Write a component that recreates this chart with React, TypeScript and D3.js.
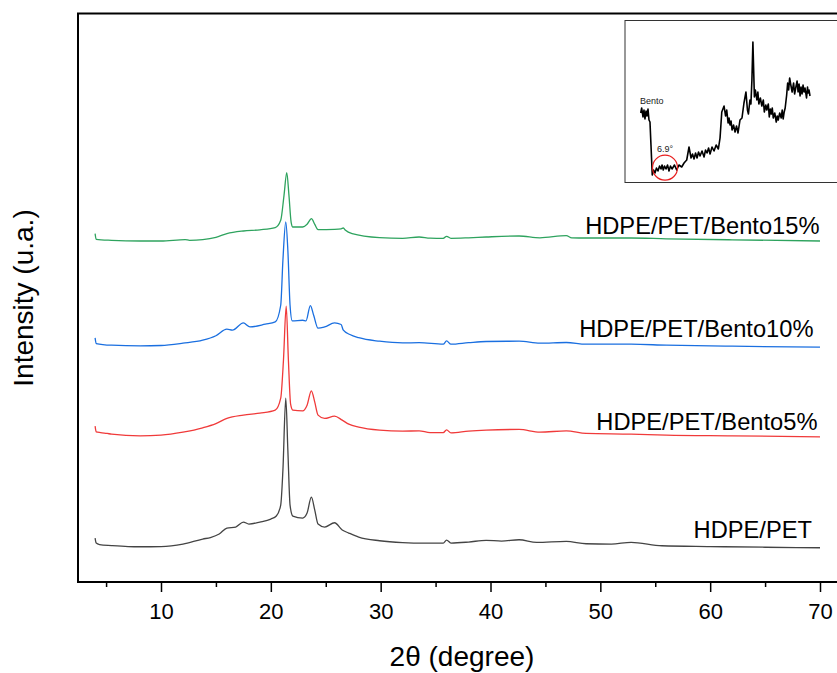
import * as d3 from "d3";
import { useRef, useEffect } from "react";

// 2θ positions and intensities (u.a.)
const petTheta = [4.0, 4.1, 4.4, 5.5, 7, 8.1, 10, 12, 13.8, 14.5, 15.3, 16.0, 16.8, 17.5, 18.0, 19.0, 20.0, 20.5, 20.9, 21.1, 21.36, 21.55, 21.75, 22.0, 22.9, 23.3, 23.69, 24.0, 24.3, 24.9, 25.8, 26.5, 27.1, 28, 29.9, 32, 34, 35.7, 36.0, 36.4, 38, 39.6, 41, 42.6, 44.2, 46.9, 48.7, 51, 52.8, 55.6, 60, 65, 70];
const petValues = [44, 39, 37.5, 36.5, 35.5, 35.3, 35.5, 38, 43, 44.5, 48, 54, 55, 60, 58, 60, 63, 66, 77, 112, 184, 132, 77, 66, 64, 69, 85, 72, 58, 55, 59.3, 52, 49, 45, 41.3, 39.5, 39, 39, 42, 39, 40, 41.7, 41, 42.3, 39.7, 40.7, 38.3, 38, 39.7, 36.3, 35.5, 34.8, 34.3];

const b5Theta = [4.0, 4.1, 4.5, 5.1, 5.5, 8.1, 10, 12, 13.8, 15, 16.0, 17.5, 19, 20.4, 20.9, 21.15, 21.4, 21.6, 21.8, 22.0, 22.9, 23.3, 23.69, 24.0, 24.3, 24.9, 25.8, 26.5, 27.1, 28, 29.9, 32, 33.5, 34.5, 35.7, 36.0, 36.4, 38, 39.6, 42.6, 44.5, 46.9, 48.7, 52.8, 56, 62, 70];
const b5Values = [156, 150.3, 149.5, 148.7, 148, 146.3, 147, 150, 154.3, 158.5, 163.7, 167, 169, 172, 184, 222, 276, 222, 178, 172, 171.3, 177, 191.3, 180, 167, 163.7, 166, 162, 158, 155, 152, 151, 151.3, 149.5, 149.5, 152.3, 149.3, 151, 152, 152.7, 150, 151.3, 148.7, 148, 147, 146.3, 145.3];

const b10Theta = [4.0, 4.1, 5.5, 8.1, 10, 12, 13.8, 15, 16.0, 16.5, 17.5, 18.1, 19.5, 20.4, 20.9, 21.1, 21.36, 21.55, 21.75, 21.95, 22.9, 23.2, 23.6, 23.9, 24.3, 24.9, 25.8, 26.4, 26.6, 27.2, 28, 29.9, 32, 33.5, 35.7, 36.0, 36.4, 38, 39.6, 42.6, 44.5, 46.9, 48.7, 52.8, 56, 62, 70];
const b10Values = [244.3, 238.7, 237, 236.3, 236.7, 239, 242, 246.5, 253, 252, 259.3, 255.3, 258, 260.3, 277, 322, 360.3, 332, 277, 261.3, 262, 261.3, 276.7, 267, 254, 255.3, 259.3, 257.7, 252, 247.7, 244.5, 241, 239.3, 239.5, 238, 241.3, 238, 239.5, 240.7, 241, 239, 239.7, 238, 238, 237, 236, 235];

const b15Theta = [4.0, 4.1, 5.5, 8.1, 10, 12.2, 12.6, 13.8, 15, 16.0, 17.5, 19, 20.4, 20.9, 21.2, 21.45, 21.65, 21.85, 22.0, 22.9, 23.3, 23.7, 24.0, 24.3, 25.8, 26.4, 26.6, 26.8, 27.4, 29.9, 32, 33.5, 34.5, 35.7, 36.0, 36.4, 38, 39.6, 42.6, 44.5, 46.9, 47.4, 48.7, 52.8, 56, 62, 70];
const b15Values = [348.7, 343, 342, 341.3, 341.3, 342.7, 342, 342.7, 345, 348.7, 351.3, 352.5, 354.7, 362, 387, 409.7, 387, 360, 355.3, 355.3, 358, 363.7, 358, 352.7, 353, 353.5, 354.3, 352, 348.7, 344.7, 344, 345.3, 344.2, 344, 346, 344, 344.5, 345.3, 346.3, 344.5, 346.7, 344.5, 344.3, 344.3, 343.5, 342.5, 341.3];

const seriesNames = ["HDPE/PET", "HDPE/PET/Bento5%", "HDPE/PET/Bento10%", "HDPE/PET/Bento15%"];
const seriesColors = ["#444444", "#f03a3a", "#1a6fe0", "#2ea35e"];

// inset: bentonite alone
const bentoTheta = [2.0, 2.2, 2.46, 2.66, 2.86, 3.07, 3.27, 3.47, 3.67, 3.87, 4.07, 4.33, 4.6, 4.88, 5.18, 5.48, 5.8, 6.09, 6.3, 6.55, 6.8, 7.1, 7.4, 7.7, 8.0, 8.31, 8.8, 9.25, 9.7, 10.26, 10.73, 11.27, 11.73, 12.14, 12.44, 12.74, 13.05, 13.35, 13.65, 13.95, 14.35, 14.76, 15.06, 15.36, 15.67, 15.97, 16.37, 16.77, 17.2, 17.64, 17.98, 18.33, 18.79, 19.09, 19.33, 19.6, 19.8, 19.99, 20.2, 20.4, 20.7, 21.0, 21.3, 21.6, 22.0, 22.4, 22.8, 23.2, 23.5, 23.7, 24.0, 24.2, 24.4, 24.6, 24.9, 25.1, 25.4, 25.6, 25.8, 26.1, 26.4, 26.7, 26.9, 27.2, 27.4, 27.7, 27.9, 28.1, 28.3, 28.5, 28.7, 29.0, 29.3, 29.5, 29.7, 30.0, 30.3, 30.5, 30.7, 30.9, 31.1, 31.4, 31.6, 31.8, 32.0, 32.2, 32.5, 32.8, 33.0, 33.3, 33.5, 33.7, 33.9, 34.1, 34.3, 34.5, 34.7, 34.9, 35.1, 35.4, 35.6, 35.7, 35.9, 36.1];
const bentoValues = [67, 72, 63, 70, 61, 69, 64, 71, 60, 58, 35, 5, 10, 7, 12, 9, 14, 11, 15, 10, 14, 11, 15, 9, 14, 11, 15, 10, 15, 13, 17, 20, 33, 22, 26, 21, 27, 22, 28, 24, 29, 23, 30, 27, 32, 26, 33, 29, 35, 31, 42, 68, 74, 64, 70, 57, 62, 55, 59, 50, 55, 48, 54, 47, 60, 62, 77, 88, 70, 66, 80, 76, 100, 138, 83, 90, 80, 88, 76, 82, 74, 80, 68, 75, 70, 76, 63, 71, 66, 72, 62, 67, 58, 64, 60, 67, 62, 70, 61, 68, 72, 85, 97, 90, 102, 96, 88, 97, 86, 94, 99, 88, 96, 84, 93, 86, 95, 88, 92, 82, 93, 87, 90, 84];

const xTicks = [10, 20, 30, 40, 50, 60, 70];
const xMinorTicks = [5, 15, 25, 35, 45, 55, 65];

const W = 837;
const H = 673;
const FONT = "'Liberation Sans', Arial, sans-serif";

const App = () => {
  const ref = useRef<SVGSVGElement>(null);

  useEffect(() => {
    const svg = d3.select(ref.current);
    svg.selectAll("*").remove();

    const left = 78;
    const top = 13.5;
    const bottom = 582;

    const x = d3.scaleLinear().domain([10, 70]).range([161, 820]);
    const y = d3.scaleLinear().domain([0, 569]).range([bottom, top]);

    // frame (right side is cut off by the picture)
    svg.append("path")
      .attr("d", `M${W + 5},${top} H${left} V${bottom} H${W + 5}`)
      .attr("fill", "none")
      .attr("stroke", "#000")
      .attr("stroke-width", 2);

    // minor ticks
    svg.append("g")
      .attr("transform", `translate(0,${bottom})`)
      .call(d3.axisBottom(x).tickValues(xMinorTicks).tickSize(5).tickFormat(() => ""))
      .call((g) => g.select(".domain").remove())
      .call((g) => g.selectAll("line").attr("stroke-width", 1.5));

    // major ticks + labels
    svg.append("g")
      .attr("transform", `translate(0,${bottom})`)
      .call(d3.axisBottom(x).tickValues(xTicks).tickSize(10).tickPadding(11).tickFormat(d3.format("d")))
      .call((g) => g.select(".domain").remove())
      .call((g) => g.selectAll("line").attr("stroke-width", 1.5))
      .call((g) => g.selectAll("text")
        .attr("font-family", FONT)
        .attr("font-size", 22)
        .attr("fill", "#000"));

    svg.append("text")
      .attr("x", 462)
      .attr("y", 666)
      .attr("text-anchor", "middle")
      .attr("font-family", FONT)
      .attr("font-size", 28)
      .text("2θ (degree)");

    svg.append("text")
      .attr("transform", "translate(33,298) rotate(-90)")
      .attr("text-anchor", "middle")
      .attr("font-family", FONT)
      .attr("font-size", 28)
      .text("Intensity (u.a.)");

    // patterns
    const thetas = [petTheta, b5Theta, b10Theta, b15Theta];
    const values = [petValues, b5Values, b10Values, b15Values];
    const labelY = [537.5, 430, 336.5, 234];
    const labelX = [812, 817.5, 813.5, 819.5];

    const line = d3.line<[number, number]>()
      .x((d) => x(d[0]))
      .y((d) => y(d[1]))
      .curve(d3.curveMonotoneX);

    thetas.forEach((t, i) => {
      const pts = t.map((v, j) => [v, values[i][j]] as [number, number]);
      svg.append("path")
        .attr("d", line(pts))
        .attr("fill", "none")
        .attr("stroke", seriesColors[i])
        .attr("stroke-width", 1.3);

      svg.append("text")
        .attr("x", labelX[i])
        .attr("y", labelY[i])
        .attr("text-anchor", "end")
        .attr("font-family", FONT)
        .attr("font-size", 23.7)
        .text(seriesNames[i]);
    });

    // inset
    const inset = svg.append("g");
    inset.append("rect")
      .attr("x", 625)
      .attr("y", 20.5)
      .attr("width", 230)
      .attr("height", 162)
      .attr("fill", "#fff")
      .attr("stroke", "#333")
      .attr("stroke-width", 1);

    const ix = d3.scaleLinear().domain([2, 36.1]).range([640.7, 810]);
    const iy = d3.scaleLinear().domain([0, 140]).range([180, 40]);

    const insetLine = d3.line<[number, number]>()
      .x((d) => ix(d[0]))
      .y((d) => iy(d[1]));

    inset.append("path")
      .attr("d", insetLine(bentoTheta.map((v, j) => [v, bentoValues[j]] as [number, number])))
      .attr("fill", "none")
      .attr("stroke", "#000")
      .attr("stroke-width", 1.6)
      .attr("stroke-linejoin", "round");

    inset.append("text")
      .attr("x", 640)
      .attr("y", 104)
      .attr("font-family", FONT)
      .attr("font-size", 9)
      .attr("fill", "#222")
      .text("Bento");

    inset.append("text")
      .attr("x", 657)
      .attr("y", 152)
      .attr("font-family", FONT)
      .attr("font-size", 9)
      .attr("fill", "#222")
      .text("6.9°");

    inset.append("circle")
      .attr("cx", ix(6.9))
      .attr("cy", 167.7)
      .attr("r", 12.5)
      .attr("fill", "none")
      .attr("stroke", "#e82020")
      .attr("stroke-width", 1.2);
  }, []);

  return (
    <svg
      ref={ref}
      width={W}
      height={H}
      style={{ position: "absolute", left: 0, top: 0, background: "#fff" }}
    />
  );
};

export default App;
